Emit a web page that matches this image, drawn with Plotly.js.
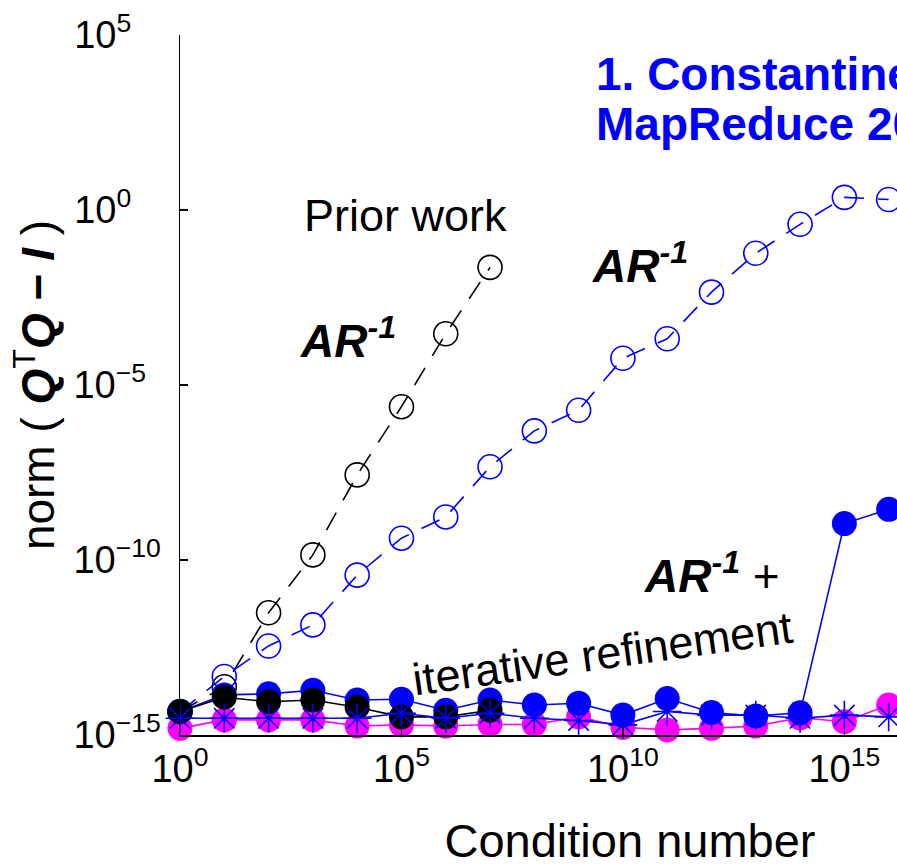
<!DOCTYPE html>
<html>
<head>
<meta charset="utf-8">
<script src="https://cdn.plot.ly/plotly-3.0.1.min.js"></script>
<style>
html, body { margin: 0; padding: 0; background: #fff; overflow: hidden; }
#wrap { width: 897px; height: 867px; overflow: hidden; position: relative; }
</style>
</head>
<body>
<div id="wrap"><div id="plot"></div></div>
<script>
// Condition numbers 10^0 .. 10^16
const condAll = [1e0,1e1,1e2,1e3,1e4,1e5,1e6,1e7,1e8,1e9,1e10,1e11,1e12,1e13,1e14,1e15,1e16];
const condPrior = [1e0,1e1,1e2,1e3,1e4,1e5,1e6,1e7];

// Prior work: AR^-1 (black, dashed, open circles)
const priorAR = [4.7e-15, 2.4e-14, 3.1e-12, 1.4e-10, 2.7e-8, 2.4e-6, 2.9e-4, 2.3e-2];
// Prior work: AR^-1 + iterative refinement (black, filled)
const priorARIR = [4.7e-15, 1.2e-14, 8.9e-15, 1.0e-14, 6.2e-15, 3.3e-15, 3.3e-15, 5.1e-15];
// New: AR^-1 (blue, dashed, open circles)
const newAR = [4.6e-15, 4.7e-14, 3.5e-13, 1.4e-12, 3.7e-11, 4.2e-10, 1.7e-9, 4.6e-8, 4.9e-7,
               1.9e-6, 5.8e-5, 2.1e-4, 4.5e-3, 5.8e-2, 0.39, 2.3, 2.0];
// New: AR^-1 + iterative refinement (blue, filled)
const newARIR = [4.7e-15, 1.4e-14, 1.5e-14, 1.9e-14, 1.0e-14, 1.05e-14, 5.1e-15, 1.0e-14, 7.2e-15,
                 8.1e-15, 3.7e-15, 1.1e-14, 4.4e-15, 3.5e-15, 4.3e-15, 1.1e-9, 2.8e-9];
// Magenta filled series
const magentaSeries = [1.55e-15, 2.7e-15, 2.7e-15, 2.7e-15, 1.8e-15, 1.95e-15, 1.8e-15, 2.0e-15, 2.0e-15,
                       3.3e-15, 1.66e-15, 1.4e-15, 1.55e-15, 1.8e-15, 3.1e-15, 2.4e-15, 7.2e-15];
// Blue asterisk series
const asteriskSeries = [3.0e-15, 3.0e-15, 3.0e-15, 3.0e-15, 3.0e-15, 4.2e-15, 3.0e-15, 4.2e-15, 3.0e-15,
                        2.6e-15, 1.95e-15, 4.7e-15, 3.7e-15, 3.7e-15, 3.0e-15, 3.7e-15, 3.3e-15];

const xTickVals = [1e0, 1e5, 1e10, 1e15, 1e20];
const xTickText = ['10<sup>0</sup>', '10<sup>5</sup>', '10<sup>10</sup>', '10<sup>15</sup>', '10<sup>20</sup>'];
const yTickVals = [1e-15, 1e-10, 1e-5, 1e0, 1e5];
const F = '\u2007';
const yTickText = ['10<sup>\u221215</sup>', '10<sup>\u221210</sup>', '10<sup>\u22125' + F + '</sup>',
                   '10<sup>0' + F + F + '</sup>', '10<sup>5' + F + F + '</sup>'];

const BLUE = '#0000ff', MAG = '#ff00ff', BLK = '#000000';
const LW = 1.6;
const DASH = '20px,14px';

const traces = [
  { x: condPrior, y: priorAR, mode: 'lines+markers', cliponaxis: false,
    line: { color: BLK, width: LW, dash: DASH },
    marker: { symbol: 'circle-open', size: 24, color: BLK, line: { width: 1.6, color: BLK } } },
  { x: condAll, y: newAR, mode: 'lines+markers', cliponaxis: false,
    line: { color: BLUE, width: LW, dash: DASH },
    marker: { symbol: 'circle-open', size: 24, color: BLUE, line: { width: 1.6, color: BLUE } } },
  { x: condAll, y: magentaSeries, mode: 'lines+markers', cliponaxis: false,
    line: { color: MAG, width: LW },
    marker: { symbol: 'circle', size: 25, color: MAG } },
  { x: condAll, y: newARIR, mode: 'lines+markers', cliponaxis: false,
    line: { color: BLUE, width: LW },
    marker: { symbol: 'circle', size: 25, color: BLUE } },
  { x: condPrior, y: priorARIR, mode: 'lines+markers', cliponaxis: false,
    line: { color: BLK, width: LW },
    marker: { symbol: 'circle', size: 25, color: BLK } },
  { x: condAll, y: asteriskSeries, mode: 'lines+markers', cliponaxis: false,
    line: { color: BLUE, width: LW },
    marker: { symbol: 'asterisk-open', size: 24, color: BLUE, line: { width: 1.6, color: BLUE } } }
];

const TXT = 'Liberation Sans, Arial, sans-serif';
const TICK = 'Liberation Sans Narrow, Arial Narrow, Liberation Sans, Arial, sans-serif';
const xl = px => (px - 180) / 44.3;
const yl = py => 5 - (py - 35) / 35;
const ARtxt = '<b><i>AR</i></b><sup><b><i>-1</i></b></sup>';

const layout = {
  width: 1100, height: 867,
  margin: { l: 180, r: 20, t: 35, b: 132 },
  paper_bgcolor: '#fff', plot_bgcolor: '#fff',
  showlegend: false,
  font: { family: TXT, color: BLK },
  xaxis: {
    type: 'log', range: [0, 20.32], showgrid: false, zeroline: false,
    showline: true, linecolor: BLK, linewidth: 1.5,
    ticks: 'inside', ticklen: 8, tickwidth: 1.2, tickcolor: BLK,
    tickmode: 'array', tickvals: xTickVals, ticktext: xTickText,
    tickfont: { family: TICK, size: 38, color: BLK },
    title: { text: 'Condition number', font: { family: TXT, size: 47, color: BLK }, standoff: 43 }
  },
  yaxis: {
    type: 'log', range: [-15, 5], showgrid: false, zeroline: false,
    showline: true, linecolor: BLK, linewidth: 1.5,
    ticks: 'inside', ticklen: 8, tickwidth: 1.2, tickcolor: BLK,
    tickmode: 'array', tickvals: yTickVals, ticktext: yTickText,
    ticklabelstandoff: 10,
    tickfont: { family: TICK, size: 38, color: BLK },
    title: { text: '\u00a0\u00a0norm ( <b><i>Q</i></b><sup>T</sup><b><i>Q</i></b> <b>\u2212</b> <b><i>I</i></b> )',
             font: { family: TXT, size: 46, color: BLK }, standoff: 4 }
  },
  annotations: [
    { xref: 'x', yref: 'y', x: xl(406), y: yl(215), text: 'Prior work', showarrow: false,
      font: { family: TXT, size: 45, color: BLK } },
    { xref: 'x', yref: 'y', x: xl(348), y: yl(338), text: ARtxt, showarrow: false,
      font: { family: TXT, size: 46, color: BLK } },
    { xref: 'x', yref: 'y', x: xl(640), y: yl(263), text: ARtxt, showarrow: false,
      font: { family: TXT, size: 46, color: BLK } },
    { xref: 'x', yref: 'y', x: xl(712), y: yl(573), text: ARtxt + ' +', showarrow: false,
      font: { family: TXT, size: 46, color: BLK } },
    { xref: 'x', yref: 'y', x: xl(603), y: yl(653), text: 'iterative refinement', showarrow: false,
      textangle: -8, font: { family: TXT, size: 45, color: BLK } },
    { xref: 'x', yref: 'y', x: xl(594), y: yl(74), xanchor: 'left', text: '<b>1. Constantine &amp; Gleich,</b>',
      showarrow: false, font: { family: TXT, size: 46, color: BLUE } },
    { xref: 'x', yref: 'y', x: xl(594), y: yl(124), xanchor: 'left', text: '<b>MapReduce 2011</b>',
      showarrow: false, font: { family: TXT, size: 46, color: BLUE } }
  ]
};

Plotly.newPlot('plot', traces, layout, { displayModeBar: false, staticPlot: true });
</script>
</body>
</html>
